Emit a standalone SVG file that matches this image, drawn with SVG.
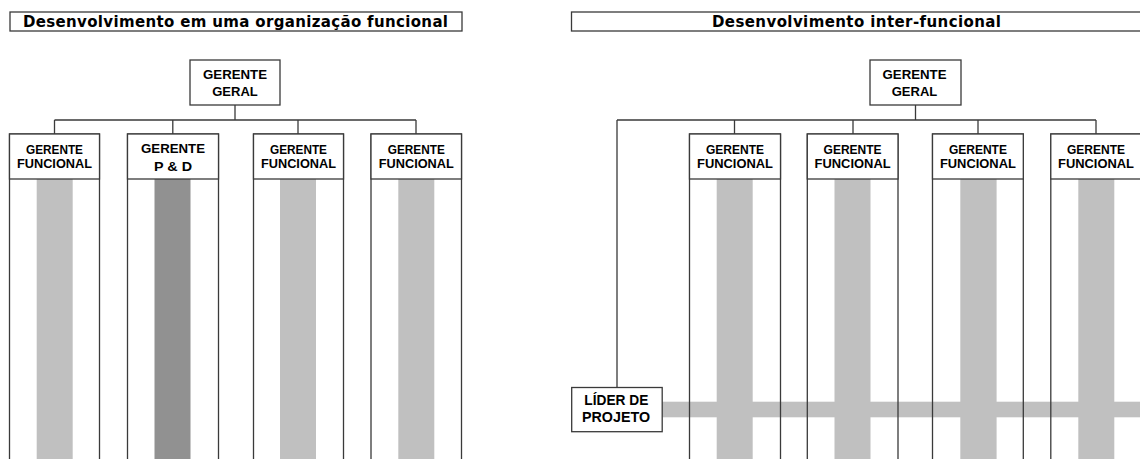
<svg xmlns="http://www.w3.org/2000/svg" width="1140" height="459" viewBox="0 0 1140 459">
<style>
.bg{fill:#ffffff}
.box{fill:#ffffff;stroke:#3a3a3a;stroke-width:1.3}
.col{fill:none;stroke:#3a3a3a;stroke-width:1.3}
.ln{fill:none;stroke:#3a3a3a;stroke-width:1.3}
.bar{fill:#c0c0c0}
.bard{fill:#919191}
.title{font-family:"DejaVu Sans",Verdana,sans-serif;font-weight:bold;font-size:15px;fill:#000}
.t{font-family:"Liberation Sans",Arial,sans-serif;font-weight:bold;font-size:12.5px;fill:#000;text-anchor:middle}
.t13{font-family:"Liberation Sans",Arial,sans-serif;font-weight:bold;font-size:13px;fill:#000;text-anchor:middle}
.t14{font-family:"Liberation Sans",Arial,sans-serif;font-weight:bold;font-size:13.8px;fill:#000;text-anchor:middle}
</style>
<rect class="bg" x="0" y="0" width="1140" height="459"/>

<!-- Left panel -->
<g id="title-left">
<rect class="box" x="10" y="12" width="452" height="19"/>
<text class="title" x="23" y="27.3" textLength="425" lengthAdjust="spacing">Desenvolvimento em uma organização funcional</text>
</g>
<g id="connectors-left">
<path class="ln" d="M235,105 V120 M54.5,120 H416 M54.5,120 V134 M172.8,120 V134 M298,120 V134 M416,120 V134"/>
</g>
<g id="gg-left">
<rect class="box" x="190" y="60" width="90" height="45"/>
<text class="t13" x="235" y="78.5" textLength="64" lengthAdjust="spacingAndGlyphs">GERENTE</text>
<text class="t13" x="235" y="95.8">GERAL</text>
</g>
<g id="lcol1">
<rect class="bar" x="36.7" y="179" width="36" height="290"/>
<rect class="col" x="9.5" y="134" width="90" height="340"/>
<rect class="box" x="9.5" y="134" width="90" height="45"/>
<text class="t" x="54.5" y="154" textLength="57" lengthAdjust="spacingAndGlyphs">GERENTE</text>
<text class="t" x="54.5" y="168.3" textLength="75" lengthAdjust="spacingAndGlyphs">FUNCIONAL</text>
</g>
<g id="lcol2">
<rect class="bard" x="154.5" y="179" width="36" height="290"/>
<rect class="col" x="127.5" y="134" width="91" height="340"/>
<rect class="box" x="127.5" y="134" width="91" height="45"/>
<text class="t13" x="173" y="152.7" textLength="64" lengthAdjust="spacingAndGlyphs">GERENTE</text>
<text class="t13" x="173" y="170.7" textLength="38" lengthAdjust="spacingAndGlyphs">P &amp; D</text>
</g>
<g id="lcol3">
<rect class="bar" x="280" y="179" width="36" height="290"/>
<rect class="col" x="253.5" y="134" width="90" height="340"/>
<rect class="box" x="253.5" y="134" width="90" height="45"/>
<text class="t" x="298.5" y="154" textLength="57" lengthAdjust="spacingAndGlyphs">GERENTE</text>
<text class="t" x="298.5" y="168.3" textLength="75" lengthAdjust="spacingAndGlyphs">FUNCIONAL</text>
</g>
<g id="lcol4">
<rect class="bar" x="398.3" y="179" width="36" height="290"/>
<rect class="col" x="371" y="134" width="90.5" height="340"/>
<rect class="box" x="371" y="134" width="90.5" height="45"/>
<text class="t" x="416.3" y="154" textLength="57" lengthAdjust="spacingAndGlyphs">GERENTE</text>
<text class="t" x="416.3" y="168.3" textLength="75" lengthAdjust="spacingAndGlyphs">FUNCIONAL</text>
</g>

<!-- Right panel -->
<g id="title-right">
<rect class="box" x="571.5" y="12" width="580" height="19"/>
<text class="title" x="712" y="27.3" textLength="289" lengthAdjust="spacing">Desenvolvimento inter-funcional</text>
</g>
<g id="connectors-right">
<path class="ln" d="M915.5,105 V120 M617,120 H1096 M617,120 V387.5 M734.5,120 V134 M853,120 V134 M978,120 V134 M1096,120 V134"/>
</g>
<g id="gg-right">
<rect class="box" x="870" y="60" width="91" height="45"/>
<text class="t13" x="914.5" y="78.5" textLength="64" lengthAdjust="spacingAndGlyphs">GERENTE</text>
<text class="t13" x="914.5" y="95.8">GERAL</text>
</g>
<g id="project-bar">
<rect class="bar" x="662" y="401.7" width="490" height="15.6"/>
<rect class="bar" x="716.7" y="179" width="36" height="290"/>
<rect class="bar" x="834.5" y="179" width="36" height="290"/>
<rect class="bar" x="960.3" y="179" width="36.3" height="290"/>
<rect class="bar" x="1078.3" y="179" width="36" height="290"/>
</g>
<g id="rcol1">
<rect class="col" x="689.5" y="134" width="91" height="340"/>
<rect class="box" x="689.5" y="134" width="91" height="45"/>
<text class="t" x="735" y="154" textLength="58" lengthAdjust="spacingAndGlyphs">GERENTE</text>
<text class="t" x="735" y="168.3" textLength="76" lengthAdjust="spacingAndGlyphs">FUNCIONAL</text>
</g>
<g id="rcol2">
<rect class="col" x="807.3" y="134" width="90.7" height="340"/>
<rect class="box" x="807.3" y="134" width="90.7" height="45"/>
<text class="t" x="852.6" y="154" textLength="58" lengthAdjust="spacingAndGlyphs">GERENTE</text>
<text class="t" x="852.6" y="168.3" textLength="76" lengthAdjust="spacingAndGlyphs">FUNCIONAL</text>
</g>
<g id="rcol3">
<rect class="col" x="932.5" y="134" width="90.8" height="340"/>
<rect class="box" x="932.5" y="134" width="90.8" height="45"/>
<text class="t" x="977.9" y="154" textLength="58" lengthAdjust="spacingAndGlyphs">GERENTE</text>
<text class="t" x="977.9" y="168.3" textLength="76" lengthAdjust="spacingAndGlyphs">FUNCIONAL</text>
</g>
<g id="rcol4">
<rect class="col" x="1050.8" y="134" width="91" height="340"/>
<rect class="box" x="1050.8" y="134" width="91" height="45"/>
<text class="t" x="1096" y="154" textLength="58" lengthAdjust="spacingAndGlyphs">GERENTE</text>
<text class="t" x="1096" y="168.3" textLength="76" lengthAdjust="spacingAndGlyphs">FUNCIONAL</text>
</g>
<g id="lider">
<rect class="box" x="571.7" y="387.5" width="90.5" height="44.2"/>
<text class="t14" x="616.3" y="405" textLength="64" lengthAdjust="spacingAndGlyphs">LÍDER DE</text>
<text class="t14" x="616" y="422.3" textLength="68" lengthAdjust="spacingAndGlyphs">PROJETO</text>
</g>
</svg>
